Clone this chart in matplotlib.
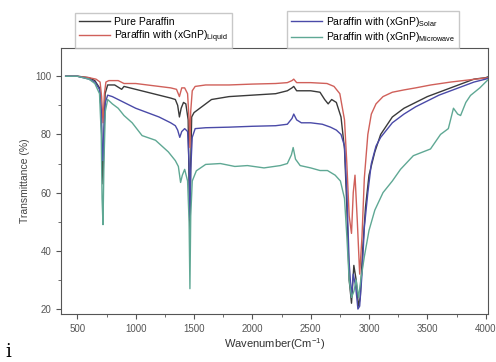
import matplotlib.pyplot as plt
from matplotlib.ticker import MultipleLocator

plt.rcParams['font.family'] = ['Liberation Sans', 'DejaVu Sans']
plt.rcParams['mathtext.fontset'] = 'custom'
plt.rcParams['mathtext.rm'] = 'Liberation Sans'

# (wavenumber, transmittance %)
pure_x = [400, 500, 600, 650, 690, 705, 712, 720, 728, 738, 760, 820, 860, 880, 900, 950, 1000, 1100,
          1200, 1300, 1340, 1360, 1375, 1390, 1410, 1430, 1450, 1458, 1465, 1472, 1480, 1500, 1550, 1650,
          1800, 2000, 2200, 2300, 2340, 2355, 2380, 2500, 2580, 2620, 2650, 2680, 2720, 2760, 2790, 2810,
          2830, 2850, 2870, 2890, 2910, 2925, 2945, 2970, 3000, 3050, 3100, 3200, 3300, 3400, 3500, 3600,
          3700, 3800, 3900, 4000, 4020]
pure_y = [100, 100, 99.5, 98.5, 96, 88, 72, 63, 78, 94, 97, 97, 96, 95.5, 96.5, 96, 95.5, 94.5,
          93.5, 92.5, 92, 90, 86, 89, 91, 90.5, 85, 62, 45, 70, 86, 87.5, 89, 92,
          93, 93.5, 94, 95, 96, 96.5, 95, 95, 94.5, 92, 90.5, 92, 91, 86, 75, 55,
          30, 22, 35, 30, 21, 24, 40, 55, 66, 74, 80, 86, 89, 91, 93, 94.5,
          96, 97.5, 99, 99.5, 99.8]

liquid_x = [400, 500, 600, 660, 695, 708, 720, 732, 745, 770, 850, 900, 1000, 1100, 1200, 1300, 1350,
            1375, 1395, 1420, 1445, 1458, 1465, 1472, 1485, 1510, 1600, 1800, 2000, 2200, 2300, 2340,
            2355, 2380, 2500, 2640, 2700, 2750, 2790, 2810, 2830, 2850, 2865, 2880, 2900, 2920, 2940,
            2960, 2990, 3020, 3060, 3120, 3200, 3300, 3400, 3530, 3700, 3870, 4020]
liquid_y = [100, 100, 99.5, 99, 98, 93, 84, 94, 98, 98.5, 98.5, 97.5, 97.5, 97, 96.5, 96, 95.5,
            93, 96, 96, 94, 85, 75.5, 88, 95, 96.5, 97, 97, 97.3, 97.5, 97.8, 98.5,
            99, 97.8, 97.8, 97.5, 96.5, 94, 85, 70, 52, 46, 60, 66, 50, 32, 45,
            65, 80, 87, 90.5, 93, 94.5, 95.3, 96, 97, 98, 98.8, 99.5]

solar_x = [400, 500, 600, 650, 690, 705, 712, 720, 728, 740, 760, 800, 900, 1000, 1100, 1200, 1300,
           1340, 1360, 1378, 1395, 1420, 1445, 1458, 1465, 1472, 1485, 1510, 1600, 1800, 2000, 2200,
           2300, 2340, 2355, 2380, 2420, 2500, 2600, 2670, 2720, 2760, 2790, 2810, 2830, 2850, 2865,
           2885, 2905, 2920, 2940, 2960, 2990, 3020, 3060, 3100, 3200, 3300, 3400, 3500, 3600, 3700,
           3800, 3900, 4000, 4020]
solar_y = [100, 100, 99, 98, 95.5, 88, 76, 71, 82, 91, 93.5, 93, 91, 89, 87.5, 86, 84,
           83, 81.5, 79, 81, 82, 81, 70, 51, 68, 79, 82, 82.3, 82.5, 82.8, 83,
           83.5, 85.5, 87, 85, 84, 84, 83.5, 82.5, 81.5, 80, 76, 60, 36, 24, 32,
           28, 20, 21, 32, 48, 60, 70, 76, 79, 84, 87, 89.5, 91.5, 93.5, 95,
           96.5, 98, 99, 99.3]

micro_x = [400, 500, 600, 650, 690, 705, 712, 720, 728, 740, 760, 800, 850, 900, 970, 1055, 1170,
           1280, 1340, 1366, 1385, 1400, 1420, 1445, 1458, 1465, 1472, 1485, 1520, 1600, 1726, 1850,
           1958, 2100, 2240, 2300, 2335, 2350, 2370, 2410, 2500, 2580, 2644, 2710, 2755, 2790, 2810,
           2830, 2850, 2870, 2890, 2910, 2930, 2960, 3000, 3050, 3120, 3200, 3270, 3380, 3527, 3613,
           3680, 3724, 3760, 3785, 3830, 3870, 3950, 4020]
micro_y = [100, 100, 99, 97.5, 94, 80, 58, 49, 70, 88, 92, 90.5, 89, 86.5, 84, 79.6, 78,
           74, 71, 69, 63.5, 66, 68, 64, 50, 27, 52, 64, 67.5, 69.7, 70, 69,
           69.3, 68.5, 69.3, 70, 73, 75.5, 71.5, 69.3, 68.5, 67.6, 67.6, 66, 64, 58, 45,
           30, 24, 26, 30, 24, 30, 38, 47, 54, 60, 64, 68, 72.7, 75, 80,
           82, 89, 87, 86.5, 91, 93.4, 96, 98.8]

labels = ['Pure Paraffin',
          r'Paraffin with (xGnP)$_{\mathrm{Liquid}}$',
          r'Paraffin with (xGnP)$_{\mathrm{Solar}}$',
          r'Paraffin with (xGnP)$_{\mathrm{Microwave}}$']
colors = ['#3a3a3a', '#d0605a', '#4a4aa8', '#5fa894']

fig = plt.figure(figsize=(4.96, 3.62), dpi=100)
ax = fig.add_axes([61/496, 1-314/362, 427/496, 266/362])

l1, = ax.plot(pure_x, pure_y, color=colors[0], lw=1.0, label=labels[0])
l2, = ax.plot(liquid_x, liquid_y, color=colors[1], lw=1.0, label=labels[1])
l3, = ax.plot(solar_x, solar_y, color=colors[2], lw=1.0, label=labels[2])
l4, = ax.plot(micro_x, micro_y, color=colors[3], lw=1.0, label=labels[3])

ax.set_xlim(360, 4020)
ax.set_ylim(18.3, 109.7)
ax.xaxis.set_major_locator(MultipleLocator(500))
ax.xaxis.set_minor_locator(MultipleLocator(250))
ax.yaxis.set_major_locator(MultipleLocator(20))
ax.yaxis.set_minor_locator(MultipleLocator(10))
ax.tick_params(which='both', direction='out', labelsize=7, colors='#555555')
ax.tick_params(which='major', length=3.5)
ax.tick_params(which='minor', length=2)
for s in ax.spines.values():
    s.set_color('#555555')
ax.set_xlabel('Wavenumber(Cm$^{-1}$)', fontsize=8, color='#333333', labelpad=2)
ax.set_ylabel('Transmittance (%)', fontsize=7.5, color='#444444', labelpad=4)

leg_kw = dict(fontsize=7.5, frameon=True, fancybox=False, edgecolor='#bbbbbb',
              handlelength=3.0, labelspacing=0.15, borderpad=0.35, handletextpad=0.4)
fig.legend(handles=[l1, l2], loc='upper left', bbox_to_anchor=(70/496, 1-8/362), **leg_kw)
fig.legend(handles=[l3, l4], loc='upper left', bbox_to_anchor=(282/496, 1-6/362), **leg_kw)

fig.text(5/496, 1-352/362, 'i', fontsize=13, family='DejaVu Serif', va='center')

fig.savefig('out.png', dpi=100)
